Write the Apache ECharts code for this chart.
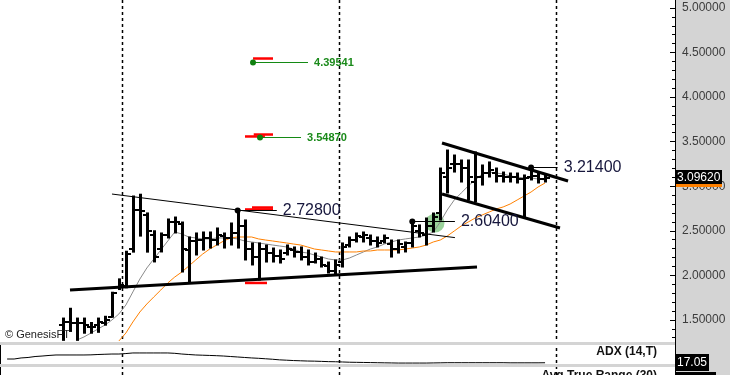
<!DOCTYPE html>
<html>
<head>
<meta charset="utf-8">
<script src="https://cdn.jsdelivr.net/npm/echarts@6/dist/echarts.min.js"></script>
<style>
html,body{margin:0;padding:0;background:#ffffff;}
#chart{width:730px;height:375px;}
</style>
</head>
<body>
<div id="chart"></div>
<script>
// ---------- data (bar index 0..69) ----------
const opens = [1.44,1.48,1.47,1.47,1.42,1.44,1.47,1.53,1.87,1.88, 2.30,2.73,2.68,2.45,2.30,2.45,2.60,2.58,2.28,2.38, 2.40,2.42,2.40,2.44,2.42,2.48,2.55,2.30,2.20,2.30, 2.25,2.22,2.25,2.28,2.26,2.20,2.15,2.18,2.10,2.05, 2.15,2.34,2.40,2.43,2.42,2.38,2.38,2.35,2.30,2.32, 2.36,2.50,2.45,2.55,2.70,3.10,3.25,3.25,3.20,3.05, 3.10,3.15,3.15,3.12,3.10,3.10,3.08,3.10,3.12,3.08];
const highs = [1.52,1.63,1.52,1.52,1.47,1.52,1.54,1.81,1.96,2.27, 2.89,2.91,2.70,2.50,2.475,2.632,2.654,2.598,2.430,2.475, 2.486,2.486,2.531,2.475,2.587,2.728,2.621,2.363,2.363,2.340, 2.306,2.284,2.340,2.318,2.318,2.284,2.250,2.205,2.149,2.172, 2.363,2.430,2.475,2.486,2.452,2.430,2.452,2.396,2.396,2.374, 2.604,2.565,2.643,2.699,3.204,3.406,3.350,3.294,3.294,3.384, 3.238,3.272,3.204,3.159,3.148,3.148,3.126,3.214,3.148,3.126];
const lows = [1.27,1.37,1.27,1.35,1.35,1.36,1.44,1.53,1.84,1.86, 2.26,2.44,2.26,2.15,2.262,2.419,2.475,2.037,1.914,2.228, 2.284,2.306,2.340,2.306,2.340,2.306,2.172,2.116,1.947,2.149, 2.149,2.138,2.228,2.205,2.172,2.116,2.138,2.093,2.026,2.003, 2.093,2.318,2.374,2.374,2.340,2.318,2.363,2.205,2.250,2.262, 2.318,2.430,2.340,2.486,2.621,2.924,3.159,3.047,2.845,2.823, 3.013,3.103,3.047,3.047,3.047,3.036,2.654,3.070,3.036,3.047];
const closes = [1.48,1.47,1.47,1.44,1.42,1.48,1.50,1.80,1.89,2.24, 2.73,2.72,2.50,2.20,2.45,2.60,2.60,2.30,2.38,2.40, 2.42,2.40,2.45,2.42,2.48,2.55,2.30,2.20,2.30,2.25, 2.22,2.18,2.30,2.26,2.20,2.15,2.18,2.12,2.05,2.12, 2.32,2.40,2.44,2.45,2.38,2.36,2.42,2.30,2.35,2.36, 2.55,2.48,2.55,2.65,3.15,3.20,3.25,3.20,3.10,3.10, 3.15,3.18,3.12,3.10,3.10,3.08,3.09,3.12,3.08,3.0962];
const maShort = [null,null,1.274,1.308,1.352,1.397,1.442,1.498,1.566,1.667, 1.813,1.958,2.082,2.183,2.284,2.385,2.486,2.464,2.430,2.419, 2.408,2.408,2.419,2.419,2.419,2.408,2.385,2.374,2.363,2.351, 2.340,2.329,2.318,2.295,2.262,2.250,2.228,2.205,2.183,2.172, 2.172,2.194,2.228,2.262,2.295,2.318,2.351,2.374,2.396,2.408, 2.419,2.430,2.452,2.486,2.598,2.733,2.845,2.924,3.002,3.070, 3.137,3.159,3.148,3.137,3.115,3.103,3.092,3.092,3.081,3.070];
const maLong = [null,null,null,null,null,null,null,null,1.263,1.352, 1.476,1.588,1.678,1.757,1.835,1.914,1.981,2.037,2.104,2.172, 2.239,2.295,2.340,2.385,2.419,2.430,2.430,2.430,2.408,2.396, 2.385,2.374,2.363,2.351,2.340,2.318,2.295,2.284,2.273,2.262, 2.262,2.262,2.262,2.273,2.273,2.284,2.284,2.284,2.284,2.295, 2.306,2.318,2.340,2.374,2.396,2.441,2.497,2.554,2.598,2.643, 2.677,2.710,2.744,2.767,2.800,2.845,2.890,2.935,2.991,3.036];
// ADX (14,T), first value belongs to bar index -8
const adxStart = -8;
const adxValues = [20.2,20.2,21.1,21.5,22.3,22.7,23.2,23.6,
 23.6,23.6,23.6,23.6,23.7,24.0,24.2,24.4,24.4,24.8,
 25.3,25.3,25.3,25.3,25.3,25.3,25.0,24.4,24.0,23.6,
 23.4,23.2,23.0,22.7,22.3,21.9,21.5,21.1,20.8,20.4,
 20.0,19.5,19.2,18.9,18.7,18.5,18.4,18.2,18.0,17.9,
 17.7,17.5,17.4,17.3,17.2,17.1,17.0,16.9,16.8,16.8,
 16.8,16.8,16.8,16.9,17.0,17.1,17.1,17.1,17.1,17.1,
 17.1,17.1,17.1,17.1,17.0,17.0,17.0,17.0,17.0,17.05];
// price axis labels and ticks
const priceTicks = [1.5,2.0,2.5,3.0,3.5,4.0,4.5,5.0];
const minorTicks = [1.3,1.4,1.6,1.7,1.8,1.9,2.1,2.2,2.3,2.4,2.6,2.7,2.8,2.9,3.1,3.2,3.3,3.4,3.6,3.7,3.8,3.9,4.1,4.2,4.3,4.4,4.6,4.7,4.8,4.9];
// session separators (between bars)
const sessionBreaks = [8.5, 39.5, 70.5];
// trend lines [startIndex, startPrice, endIndex, endPrice]
const thickTrends = [[1.0,1.835,59.26,2.093],[54.25,3.485,72.29,3.058],[54.25,2.912,71.14,2.531]];
const thinTrends = [[7.01,2.912,56.1,2.423]];
// pivot levels [barIndex, price, lineEndIndex]
const pivots = [[25,2.728,30.6],[50,2.604,56.1],[67,3.214,70.8]];
const pivotLabels = ['2.72800','2.60400','3.21400'];
// target levels [index, price, lineEndIndex]
const targets = [[27.2,4.39541,35.07],[28.2,3.5487,34.07]];
const targetLabels = ['4.39541','3.54870'];
// red markers [startIndex, price, endIndex]
const redMarks = [[27.2,4.433,30.06],[27.3,3.580,30.06],[26.05,3.558,28.9],[27.05,2.761,30.06],[26.05,2.739,30.06],[26.05,1.914,29.2]];
// highlighted area [index, price]
const highlight = [[53.25,2.587]];

// ---------- chart ----------
const chart = echarts.init(document.getElementById('chart'));
const FONT = '"Liberation Sans", Arial, Helvetica, sans-serif';
const X_RANGE = [-9.018, 87.6];
const PRICE_RANGE = [1.26263, 5.08979];
const ADX_RANGE = [16, 32];

const ohlcData = opens.map((o, i) => [i, o, highs[i], lows[i], closes[i]]);
const toLine = arr => arr.map((v, i) => [i, v]).filter(d => d[1] !== null);
const adxData = adxValues.map((v, k) => [k + adxStart, v]);

function ohlcItem(params, api) {
  const idx = api.value(0);
  const hi = api.coord([idx, api.value(2)]);
  const lo = api.coord([idx, api.value(3)]);
  const op = api.coord([idx, api.value(1)]);
  const cl = api.coord([idx, api.value(4)]);
  const x = Math.round(hi[0]) + 0.5;
  const oy = Math.round(op[1]), cy = Math.round(cl[1]);
  return {type:'group', children:[
    {type:'line', shape:{x1:x, y1:hi[1]-0.5, x2:x, y2:lo[1]+0.5}, style:{stroke:'#000', lineWidth:3}},
    {type:'line', shape:{x1:x-4.5, y1:oy, x2:x, y2:oy}, style:{stroke:'#000', lineWidth:2}},
    {type:'line', shape:{x1:x, y1:cy, x2:x+4.5, y2:cy}, style:{stroke:'#000', lineWidth:2}}
  ]};
}
function segRenderer(color, width) {
  return (params, api) => {
    const a = api.coord([api.value(0), api.value(1)]);
    const b = api.coord([api.value(2), api.value(3)]);
    return {type:'line', shape:{x1:a[0], y1:a[1], x2:b[0], y2:b[1]}, style:{stroke:color, lineWidth:width}};
  };
}
function levelRenderer(lineColor, dotColor, textColor, font, labels) {
  return (params, api) => {
    const a = api.coord([api.value(0), api.value(1)]);
    const b = api.coord([api.value(2), api.value(1)]);
    const y = Math.round(a[1]) + 0.5;
    return {type:'group', children:[
      {type:'line', shape:{x1:a[0], y1:y, x2:b[0], y2:y}, style:{stroke:lineColor, lineWidth:1}},
      {type:'circle', shape:{cx:a[0], cy:y, r:3}, style:{fill:dotColor}},
      {type:'text', style:{text:labels[params.dataIndex], x:b[0]+6, y:y, font:font, fill:textColor, align:'left', verticalAlign:'middle', textAlign:'left', textVerticalAlign:'middle'}}
    ]};
  };
}
function redRenderer(params, api) {
  const a = api.coord([api.value(0), api.value(1)]);
  const b = api.coord([api.value(2), api.value(1)]);
  return {type:'line', shape:{x1:a[0], y1:a[1], x2:b[0], y2:a[1]}, style:{stroke:'#ff0000', lineWidth:2.5}};
}
function circleRenderer(params, api) {
  const c = api.coord([api.value(0), api.value(1)]);
  return {type:'circle', shape:{cx:c[0], cy:c[1], r:9.5}, style:{fill:'rgba(120,195,120,0.75)'}};
}
function breakRenderer(params, api) {
  const x = Math.round(api.coord([api.value(0), PRICE_RANGE[0]])[0]) + 0.5;
  return {type:'line', shape:{x1:x, y1:0, x2:x, y2:api.getHeight()}, style:{stroke:'#000', lineWidth:1.5, lineDash:[3,3]}};
}

const option = {
  animation: false,
  backgroundColor: '#ffffff',
  grid: [
    {left:0, top:0, width:675, height:341},
    {left:0, top:345, width:675, height:19}
  ],
  xAxis: [
    {type:'value', gridIndex:0, min:X_RANGE[0], max:X_RANGE[1], show:false},
    {type:'value', gridIndex:1, min:X_RANGE[0], max:X_RANGE[1], show:false}
  ],
  yAxis: [
    {type:'value', gridIndex:0, position:'right', min:PRICE_RANGE[0], max:PRICE_RANGE[1],
     splitLine:{show:false},
     axisLine:{show:true, onZero:false, lineStyle:{color:'#000', width:1}},
     axisTick:{show:true, inside:true, length:5, customValues:priceTicks, lineStyle:{color:'#000'}},
     axisLabel:{show:true, customValues:priceTicks, margin:7, color:'#3c3c3c', fontSize:12, fontFamily:FONT,
       formatter: v => Number(v).toFixed(5)}},
    {type:'value', gridIndex:0, position:'right', min:PRICE_RANGE[0], max:PRICE_RANGE[1],
     splitLine:{show:false}, axisLine:{show:false, onZero:false}, axisLabel:{show:false},
     axisTick:{show:true, inside:true, length:3, customValues:minorTicks, lineStyle:{color:'#000'}}},
    {type:'value', gridIndex:1, position:'right', min:ADX_RANGE[0], max:ADX_RANGE[1],
     splitLine:{show:false}, axisLabel:{show:false}, axisTick:{show:false},
     axisLine:{show:true, onZero:false, lineStyle:{color:'#000'}}}
  ],
  series: [
    {type:'custom', name:'sessions', xAxisIndex:0, yAxisIndex:0, clip:false, z:1, silent:true,
     data: sessionBreaks.map(v => [v, PRICE_RANGE[0]]), renderItem: breakRenderer},
    {type:'custom', name:'highlight', xAxisIndex:0, yAxisIndex:0, z:2, silent:true,
     data: highlight, renderItem: circleRenderer},
    {type:'line', name:'MA short', xAxisIndex:0, yAxisIndex:0, z:3, data: toLine(maShort),
     showSymbol:false, symbol:'none', lineStyle:{color:'#8a8a8a', width:1}, silent:true},
    {type:'line', name:'MA long', xAxisIndex:0, yAxisIndex:0, z:3, data: toLine(maLong),
     showSymbol:false, symbol:'none', lineStyle:{color:'#ff8000', width:1}, silent:true},
    {type:'custom', name:'OHLC', xAxisIndex:0, yAxisIndex:0, z:5, data: ohlcData, renderItem: ohlcItem,
     encode:{x:0, y:[1,2,3,4]}},
    {type:'custom', name:'thin trend', xAxisIndex:0, yAxisIndex:0, z:6, data: thinTrends, renderItem: segRenderer('#000', 1)},
    {type:'custom', name:'thick trend', xAxisIndex:0, yAxisIndex:0, z:6, data: thickTrends, renderItem: segRenderer('#000', 3)},
    {type:'custom', name:'red', xAxisIndex:0, yAxisIndex:0, z:7, data: redMarks, renderItem: redRenderer},
    {type:'custom', name:'pivots', xAxisIndex:0, yAxisIndex:0, z:8, clip:false, data: pivots,
     renderItem: levelRenderer('#000', '#000', '#16163c', '16px ' + FONT, pivotLabels)},
    {type:'custom', name:'targets', xAxisIndex:0, yAxisIndex:0, z:8, clip:false, data: targets,
     renderItem: levelRenderer('#148a14', '#108010', '#1a8a1a', 'bold 11px ' + FONT, targetLabels)},
    {type:'line', name:'ADX', xAxisIndex:1, yAxisIndex:2, z:3, data: adxData,
     showSymbol:false, symbol:'none', lineStyle:{color:'#000', width:1}, silent:true}
  ]
};
chart.setOption(option);

const lastY = chart.convertToPixel({yAxisIndex:0}, closes[closes.length-1]);
const adxY = chart.convertToPixel({yAxisIndex:2}, adxValues[adxValues.length-1]);

chart.setOption({
  graphic: [
    {type:'rect', z:-5, silent:true, shape:{x:676, y:0, width:54, height:375}, style:{fill:'#d4d4d4'}},
    {type:'rect', z:20, silent:true, shape:{x:0, y:342, width:675, height:3}, style:{fill:'#d4d4d4'}},
    {type:'rect', z:20, silent:true, shape:{x:0, y:364, width:675, height:3}, style:{fill:'#d4d4d4'}},
    {type:'line', z:21, silent:true, shape:{x1:675.5, y1:0, x2:675.5, y2:375}, style:{stroke:'#000', lineWidth:1}},
    {type:'line', z:21, silent:true, shape:{x1:0.5, y1:345, x2:0.5, y2:364}, style:{stroke:'#000', lineWidth:1}},
    {type:'line', z:21, silent:true, shape:{x1:0.5, y1:367, x2:0.5, y2:375}, style:{stroke:'#000', lineWidth:1}},
    {type:'text', z:21, silent:true, style:{text:'© GenesisFT', x:5, y:335, font:'11px ' + FONT, fill:'#222', textVerticalAlign:'middle', verticalAlign:'middle'}},
    {type:'text', z:21, silent:true, style:{text:'ADX (14,T)', x:657, y:352, font:'bold 12px ' + FONT, fill:'#111', textAlign:'right', align:'right', textVerticalAlign:'middle', verticalAlign:'middle'}},
    {type:'text', z:21, silent:true, style:{text:'Avg True Range (30)', x:657, y:370, font:'bold 12px ' + FONT, fill:'#111', textAlign:'right', align:'right', textVerticalAlign:'top', verticalAlign:'top'}},
    {type:'rect', z:30, silent:true, shape:{x:675, y:Math.round(lastY)-8, width:47, height:14}, style:{fill:'#000'}},
    {type:'rect', z:31, silent:true, shape:{x:676, y:Math.round(lastY)+6, width:46, height:3}, style:{fill:'#ff8000'}},
    {type:'text', z:32, silent:true, style:{text:closes[closes.length-1].toFixed(5), x:677, y:Math.round(lastY)-0.5, font:'12px ' + FONT, fill:'#fff', textVerticalAlign:'middle', verticalAlign:'middle'}},
    {type:'rect', z:30, silent:true, shape:{x:675, y:Math.round(adxY)-9, width:34, height:17}, style:{fill:'#000'}},
    {type:'text', z:32, silent:true, style:{text:adxValues[adxValues.length-1].toFixed(2), x:677, y:Math.round(adxY)-0.5, font:'12px ' + FONT, fill:'#fff', textVerticalAlign:'middle', verticalAlign:'middle'}},
    {type:'rect', z:30, silent:true, shape:{x:675, y:372, width:41, height:3}, style:{fill:'#000'}}
  ]
});
</script>
</body>
</html>
